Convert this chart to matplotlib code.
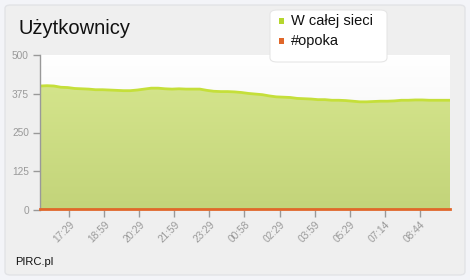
import numpy as np
import matplotlib
matplotlib.use('Agg')
import matplotlib.pyplot as plt
from matplotlib.patches import FancyBboxPatch, Rectangle

plt.rcParams['font.family'] = ['Liberation Sans', 'DejaVu Sans']

# values (one sample every ~18 minutes)
all_users = [400, 401, 400, 396, 395, 392, 391, 390, 388, 388,
             387, 386, 385, 385, 387, 390, 393, 393, 391, 390,
             391, 390, 390, 390, 386, 383, 382, 382, 381, 379,
             376, 374, 372, 368, 365, 364, 363, 360, 359, 358,
             356, 356, 354, 354, 353, 351, 349, 349, 350, 351,
             351, 352, 354, 354, 355, 355, 354, 354, 354, 354]
opoka = [2] * len(all_users)
tick_labels = ['17:29', '18:59', '20:29', '21:59', '23:29', '00:58',
               '02:29', '03:59', '05:29', '07:14', '08:44']
tick_pos = [4.17 + 5.05 * k for k in range(len(tick_labels))]

x = np.arange(len(all_users))

fig = plt.figure(figsize=(4.7, 2.8), dpi=100)
fig.patch.set_facecolor('#f3f4f8')

# card background
card = FancyBboxPatch((5 / 470, 5 / 280), 460 / 470, 270 / 280,
                      boxstyle='round,pad=0,rounding_size=0.012',
                      transform=fig.transFigure, facecolor='#efefef',
                      edgecolor='#e2e3e6', linewidth=1, zorder=-5)
fig.patches.append(card)

ax = fig.add_axes([40 / 470, 70 / 280, 410 / 470, 155 / 280])
ax.set_facecolor('none')

# plot background gradient (white at top to light grey)
bg = np.linspace(0, 1, 100).reshape(-1, 1)
ax.imshow(bg, extent=[0, 1, 0, 1], transform=ax.transAxes, aspect='auto',
          cmap=matplotlib.colors.LinearSegmentedColormap.from_list('bg', ['#ffffff', '#f0f0f0']),
          origin='upper', zorder=0)

# green area with gradient
poly = ax.fill_between(x, 0, all_users, color='none', zorder=1)
grad = np.linspace(0, 1, 100).reshape(-1, 1)
im = ax.imshow(grad, extent=[0, len(x) - 1, 0, 500], aspect='auto', origin='upper',
               cmap=matplotlib.colors.LinearSegmentedColormap.from_list('gr', ['#d8e88f', '#c3d47a']),
               zorder=1)
im.set_clip_path(poly.get_paths()[0], transform=ax.transData)
ax.plot(x, all_users, color='#c5df3a', linewidth=2, zorder=2)
ax.plot(x, opoka, color='#e0672a', linewidth=2, zorder=3, clip_on=False)

ax.set_xlim(0, len(x) - 1)
ax.set_ylim(0, 500)
ax.set_yticks([0, 125, 250, 375, 500])
ax.set_xticks(tick_pos)
ax.set_xticklabels(tick_labels, rotation=45, ha='right', rotation_mode='anchor')

for s in ['top', 'right', 'bottom']:
    ax.spines[s].set_visible(False)
ax.spines['left'].set_color('#999999')
ax.spines['left'].set_linewidth(1)
ax.tick_params(axis='both', colors='#999999', labelcolor='#999999',
               labelsize=7.3, length=5, width=1)
ax.tick_params(axis='y', pad=3)
ax.tick_params(axis='x', pad=2)

# title
fig.text(18 / 470, 1 - 29 / 280, 'Użytkownicy', fontsize=14.5, color='#111111',
         va='center', ha='left')

# legend box
lg = FancyBboxPatch((270 / 470, 1 - 62 / 280), 117 / 470, 52 / 280,
                    boxstyle='round,pad=0,rounding_size=0.015',
                    transform=fig.transFigure, facecolor='white',
                    edgecolor='#e6e6e6', linewidth=0.8, zorder=5)
fig.patches.append(lg)
for i, (lab, col) in enumerate([('W całej sieci', '#b5d62e'), ('#opoka', '#e0672a')]):
    yc = 1 - (21 + 20 * i) / 280
    fig.patches.append(Rectangle((279 / 470, yc - 2.5 / 280), 5 / 470, 5 / 280,
                                 transform=fig.transFigure, facecolor=col,
                                 edgecolor='none', zorder=6))
    fig.text(291 / 470, yc, lab, fontsize=10.5, color='#111111', va='center',
             ha='left', zorder=7)

fig.text(15 / 470, 1 - 262 / 280, 'PIRC.pl', fontsize=8, color='#111111',
         va='center', ha='left')

fig.savefig('out.png', dpi=100, facecolor=fig.get_facecolor())
